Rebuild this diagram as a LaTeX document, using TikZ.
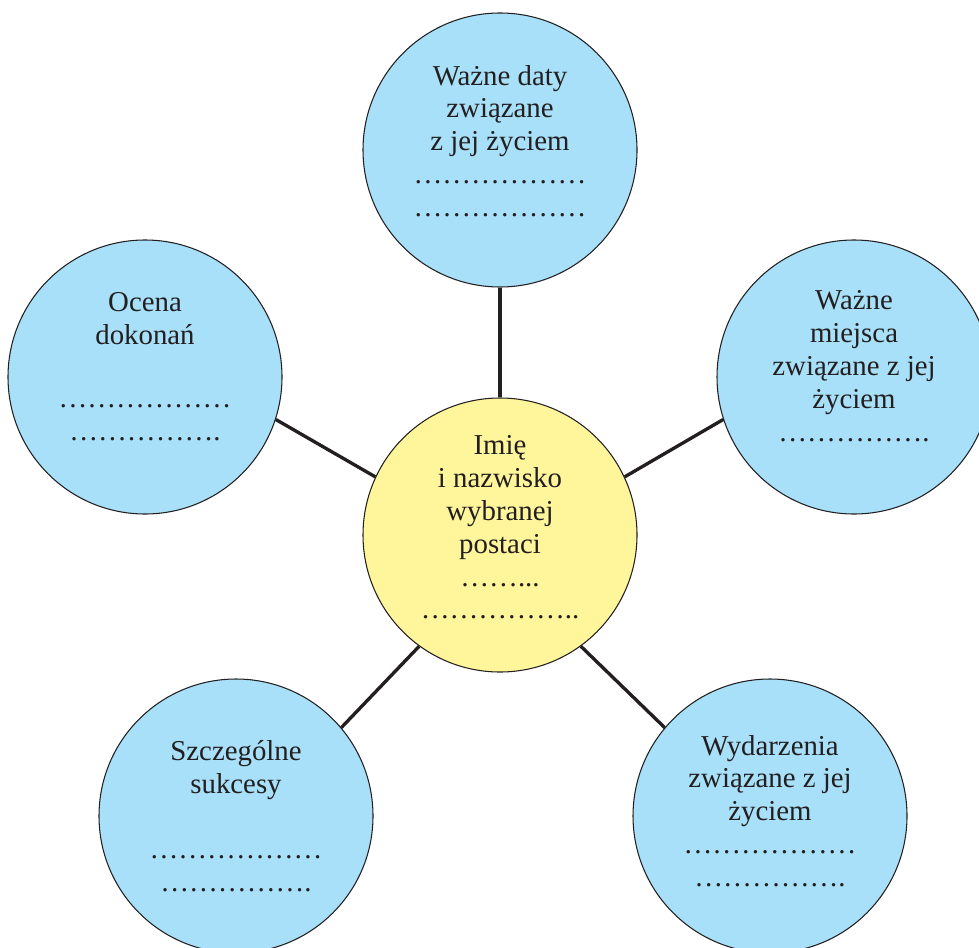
\documentclass[tikz,border=0pt]{standalone}
\usepackage{fontspec}
\setmainfont{Liberation Serif}
\usepackage{xcolor}
\definecolor{bubbleblue}{RGB}{167,224,248}
\definecolor{bubbleyellow}{RGB}{255,245,155}
\definecolor{inkgray}{RGB}{35,31,32}

\begin{document}
\begin{tikzpicture}[
  bubble/.style={circle,draw=inkgray,line width=0.6pt,fill=bubbleblue,
                 minimum size=5.48cm,inner sep=0pt},
  txt/.style   ={align=center,text=inkgray,inner sep=0pt,
                 font=\fontsize{16.4}{18.7}\selectfont},
  link/.style  ={draw=inkgray,line width=1.9pt},
]
\clip (0,0) rectangle (19.58,-18.94);

\node[bubble,label={[txt,yshift=0.18cm]center:{Ważne daty\\związane\\z jej życiem\\
  ………………\\………………}}] (daty) at (10,-3) {};
\node[bubble,label={[txt,yshift=0.21cm]center:{Ocena\\dokonań\\[0.6cm]
  ………………\\…………….}}] (ocena) at (2.9,-7.54) {};
\node[bubble,label={[txt,yshift=0.22cm]center:{Ważne\\miejsca\\związane z jej\\
  życiem\\…………….}}] (miejsca) at (17.08,-7.54) {};
\node[bubble,fill=bubbleyellow,label={[txt,yshift=0.15cm]center:{Imię\\i nazwisko\\
  wybranej\\postaci\\……...\\……………..}}] (postac) at (10,-10.7) {};
\node[bubble,label={[txt]center:{Szczególne\\sukcesy\\[0.64cm]
  ………………\\…………….}}] (sukcesy) at (4.72,-16.32) {};
\node[bubble,label={[txt,yshift=0.1cm]center:{Wydarzenia\\związane z jej\\życiem\\
  ………………\\…………….}}] (wydarzenia) at (15.4,-16.32) {};

\draw[link] (daty) -- (postac);
\draw[link] (ocena.-18) -- (postac.155);
\draw[link] (miejsca.198) -- (postac.25);
\draw[link] (sukcesy.40) -- (postac.234);
\draw[link] (wydarzenia.140) -- (postac.-54);
\end{tikzpicture}
\end{document}
